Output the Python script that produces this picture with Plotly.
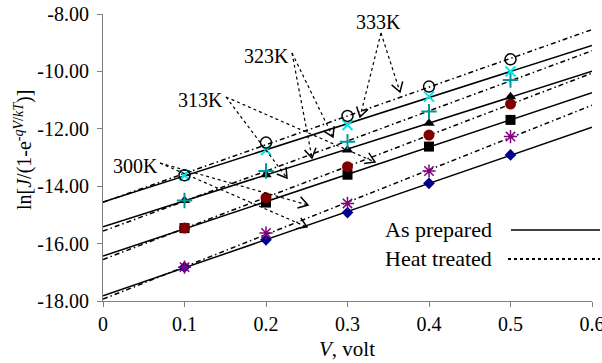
import numpy as np
import plotly.graph_objects as go

# ---------------- data ----------------
V = [0.1, 0.2, 0.3, 0.4, 0.5]
ap_300 = [-16.82, -15.87, -14.92, -13.90, -12.91]
ht_300 = [-16.82, -15.63, -14.60, -13.47, -12.27]
ap_313 = [-15.46, -14.57, -13.60, -12.62, -11.69]
ht_313 = [-15.46, -14.40, -13.32, -12.22, -11.14]
ap_323 = [-14.50, -13.60, -12.74, -11.81, -10.88]
ht_323 = [-14.50, -13.47, -12.45, -11.40, -10.30]
ap_333 = [-13.62, -12.74, -11.87, -10.88, -10.00]
ht_333 = [-13.62, -12.48, -11.55, -10.53, -9.58]

y_tickvals = [-18, -16, -14, -12, -10, -8]
y_ticktext = ["-18.00", "-16.00", "-14.00", "-12.00", "-10.00", "-8.00"]
x_tickvals = [0, 0.1, 0.2, 0.3, 0.4, 0.5, 0.6]
x_ticktext = ["0", "0.1", "0.2", "0.3", "0.4", "0.5", "0.6"]
temp_labels = ["300K", "313K", "323K", "333K"]
legend_labels = ["As prepared", "Heat treated"]
x_title = "<i>V</i>, volt"
y_title = "ln[<i>J</i>/(1-e<sup>-<i>qV</i>/<i>kT</i></sup>)]"

FONT = "Times New Roman, Liberation Serif, serif"
W, H = 602, 363
L, R, T, B = 103, 10, 14, 62
PW, PH = W - L - R, H - T - B

fig = go.Figure()

# trendlines
xfit = np.array([0.0, 0.6])
ap_sets = [ap_300, ap_313, ap_323, ap_333]
ht_sets = [ht_300, ht_313, ht_323, ht_333]
for s in ap_sets:
    k, b = np.polyfit(V, s, 1)
    fig.add_trace(go.Scatter(x=xfit, y=k * xfit + b, mode="lines",
                             line=dict(color="black", width=1.5), hoverinfo="skip"))
for s in ht_sets:
    k, b = np.polyfit(V, s, 1)
    fig.add_trace(go.Scatter(x=xfit, y=k * xfit + b, mode="lines",
                             line=dict(color="black", width=1.5, dash="5px,3px,1.5px,3px"),
                             hoverinfo="skip"))

# markers
marker_specs = [
    (ap_300, dict(symbol="diamond", size=9, color="#00008B")),
    (ht_300, dict(symbol="asterisk-open", size=11, color="#800080", line=dict(color="#800080", width=1.5))),
    (ap_313, dict(symbol="square", size=10, color="black")),
    (ht_313, dict(symbol="circle", size=11, color="#800000")),
    (ap_323, dict(symbol="triangle-up", size=10, color="black")),
    (ht_323, dict(symbol="cross-thin-open", size=11, color="#009999", line=dict(color="#009999", width=2))),
    (ap_333, dict(symbol="x-thin-open", size=10, color="#00E5EE", line=dict(color="#00E5EE", width=2))),
    (ht_333, dict(symbol="circle-open", size=11, color="black", line=dict(color="black", width=1.5))),
]
for ys, m in marker_specs:
    fig.add_trace(go.Scatter(x=V, y=ys, mode="markers", marker=m))


def px2paper(px, py):
    return (px - L) / PW, (T + PH - py) / PH


shapes = []
annotations = []


def arrow(start, tip):
    sx, sy = px2paper(*start)
    tx, ty = px2paper(*tip)
    shapes.append(dict(type="line", xref="paper", yref="paper", x0=sx, y0=sy, x1=tx, y1=ty,
                       line=dict(color="black", width=1.2, dash="dot")))
    dx, dy = tip[0] - start[0], tip[1] - start[1]
    n = np.hypot(dx, dy)
    ux, uy = dx / n, dy / n
    ln, ang = 11, np.radians(32)
    pts = []
    for a in (ang, -ang):
        c, s_ = np.cos(a), np.sin(a)
        wx = -(ux * c - uy * s_) * ln
        wy = -(ux * s_ + uy * c) * ln
        pts.append((tip[0] + wx, tip[1] + wy))
    p1 = px2paper(*pts[0])
    p2 = px2paper(*pts[1])
    path = f"M{p1[0]},{p1[1]} L{tx},{ty} L{p2[0]},{p2[1]}"
    shapes.append(dict(type="path", xref="paper", yref="paper", path=path,
                       line=dict(color="black", width=1.5)))


label_pos = [(135, 166), (200, 100), (266, 56), (378, 22)]
label_starts = [(160, 163), (226, 97), (292, 53), (381, 33)]
label_tips = [[(308, 205), (307, 227)], [(287, 178), (375, 162)],
              [(312, 158), (333, 137)], [(360, 117), (400, 92)]]

for lab, pos, st, tips in zip(temp_labels, label_pos, label_starts, label_tips):
    for tp in tips:
        arrow(st, tp)
    xp, yp = px2paper(*pos)
    annotations.append(dict(text=lab, xref="paper", yref="paper", x=xp, y=yp,
                            showarrow=False, xanchor="center", yanchor="middle",
                            font=dict(family=FONT, size=20, color="black")))

# custom legend
leg_rows = [(legend_labels[0], 229, "solid", 511), (legend_labels[1], 258, "dot", 508)]
for txt, py, dash, lx0 in leg_rows:
    xp, yp = px2paper(494, py)
    annotations.append(dict(text=txt, xref="paper", yref="paper", x=xp, y=yp,
                            showarrow=False, xanchor="right", yanchor="middle",
                            font=dict(family=FONT, size=22, color="black")))
    x0, y0 = px2paper(lx0, py + 1)
    x1, _ = px2paper(600, py + 1)
    shapes.append(dict(type="line", xref="paper", yref="paper", x0=x0, y0=y0, x1=x1, y1=y0,
                       line=dict(color="black", width=1.5 if dash == "solid" else 2, dash=dash)))

# axis titles
xp, yp = px2paper(347, 349)
annotations.append(dict(text=x_title, xref="paper", yref="paper", x=xp, y=yp,
                        showarrow=False, xanchor="center", yanchor="middle",
                        font=dict(family=FONT, size=21, color="black")))
xp, yp = px2paper(23, 150)
annotations.append(dict(text=y_title, xref="paper", yref="paper", x=xp, y=yp,
                        showarrow=False, xanchor="center", yanchor="middle", textangle=-90,
                        font=dict(family=FONT, size=20, color="black")))

fig.update_layout(
    width=W, height=H,
    margin=dict(l=L, r=R, t=T, b=B, autoexpand=False),
    paper_bgcolor="white", plot_bgcolor="white",
    showlegend=False,
    font=dict(family=FONT, size=20, color="black"),
    shapes=shapes, annotations=annotations,
    xaxis=dict(range=[0, 0.6], tickvals=x_tickvals, ticktext=x_ticktext, automargin=False,
               showgrid=False, zeroline=False, showline=True, linecolor="#808080", linewidth=1,
               ticks="outside", ticklen=5, tickcolor="#808080", ticklabeloverflow="allow",
               tickfont=dict(family=FONT, size=20)),
    yaxis=dict(range=[-18, -8], tickvals=y_tickvals, ticktext=y_ticktext, automargin=False,
               showgrid=False, zeroline=False, showline=True, linecolor="#808080", linewidth=1,
               ticks="outside", ticklen=5, tickcolor="#808080", ticklabelstandoff=4,
               ticklabeloverflow="allow", tickfont=dict(family=FONT, size=20)),
)

fig.write_html("out.html", config={"displayModeBar": False},
               post_script="document.body.style.margin='0';")
